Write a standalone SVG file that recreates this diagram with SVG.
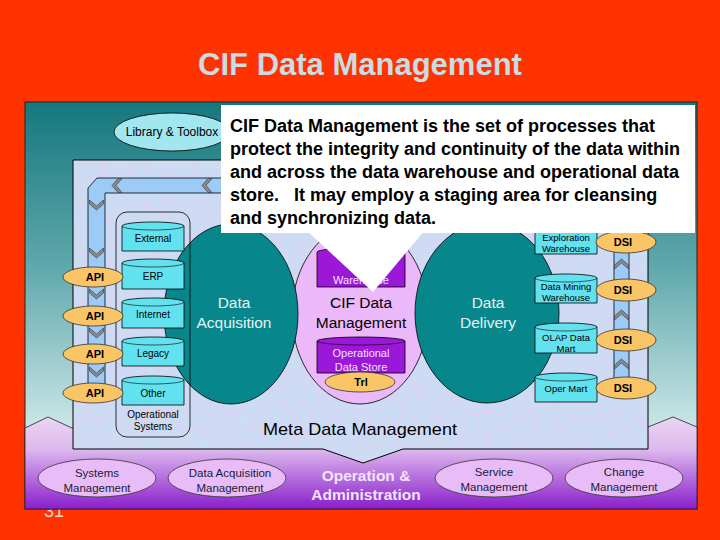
<svg xmlns="http://www.w3.org/2000/svg" width="720" height="540" viewBox="0 0 720 540">
<defs>
<linearGradient id="gTeal" x1="0" y1="102" x2="0" y2="430" gradientUnits="userSpaceOnUse">
<stop offset="0" stop-color="#15777D"/>
<stop offset="0.5" stop-color="#5FA8AC"/>
<stop offset="1" stop-color="#CDE7E7"/>
</linearGradient>
<linearGradient id="gPurple" x1="0" y1="417" x2="0" y2="509" gradientUnits="userSpaceOnUse">
<stop offset="0" stop-color="#EAD6F2"/>
<stop offset="0.35" stop-color="#DDB8EE"/>
<stop offset="1" stop-color="#8A1ECC"/>
</linearGradient>
<filter id="tex" x="0" y="0" width="1" height="1" color-interpolation-filters="sRGB">
<feTurbulence type="fractalNoise" baseFrequency="0.12" numOctaves="3" seed="7" result="n"/>
<feColorMatrix in="n" type="matrix" values="0 0 0 0 0.88  0 0 0 0 0.80  0 0 0 0 0.96  1.4 0 0 0 -0.55" result="spk"/>
<feComposite in="spk" in2="SourceGraphic" operator="atop"/>
</filter>
<path id="chev" d="M-7,-5 L0,1 L7,-5 L7,-1 L0,5 L-7,-1 Z"/>
<style>
text{font-family:"Liberation Sans",Arial,sans-serif;}
.cyl{fill:#62E2EE;stroke:#000;stroke-width:0.8;}
.rim{fill:none;stroke:#000;stroke-width:0.6;}
.pcyl{fill:#9C18D8;stroke:#000;stroke-width:0.8;}
.org{fill:#F9C566;stroke:#333;stroke-width:0.8;}
.lav{fill:#E8BDF7;stroke:#333;stroke-width:0.8;}
.teal{fill:#07878C;stroke:#000;stroke-width:0.8;}
.s10{font-size:10px;fill:#000;text-anchor:middle;}
.s9{font-size:9.5px;fill:#000;text-anchor:middle;}
.pw{font-size:11px;fill:#F4E2FF;text-anchor:middle;}
.b11{font-size:11px;font-weight:bold;fill:#000;text-anchor:middle;}
.big{font-size:15.5px;text-anchor:middle;}
.bot{font-size:11.5px;fill:#1A1A3A;text-anchor:middle;}
.ch{fill:#8A8A8A;stroke:#333;stroke-width:0.6;}
.cal{font-size:18px;font-weight:bold;fill:#000;white-space:pre;}
</style>
</defs>

<rect x="0" y="0" width="720" height="540" fill="#FF3300"/>
<text x="44" y="517" font-size="18" fill="#F4D8CC">31</text>
<text id="title" x="360" y="75" font-size="31" font-weight="bold" fill="#CBDCE3" text-anchor="middle">CIF Data Management</text>

<g id="panel">
<rect x="25" y="102" width="672" height="407" fill="url(#gTeal)" stroke="#222" stroke-width="1"/>
<path d="M25,428 L48,417 L72,428 L648,427 L673,417 L697,427 V509 H25 Z" fill="url(#gPurple)" stroke="#222" stroke-width="0.8"/>
<path d="M73,160 H648 V449 H403 L363,463 L323,449 H73 Z" fill="#CBDDF3" filter="url(#tex)"/>
<path d="M73,160 H648 V449 H403 L363,463 L323,449 H73 Z" fill="none" stroke="#000" stroke-width="1"/>
</g>

<g id="library-toolbox">
<ellipse cx="172" cy="132" rx="58" ry="19" fill="#A2E6EF" stroke="#000" stroke-width="0.8"/>
<text x="172" y="136" font-size="12" fill="#000" text-anchor="middle">Library &amp; Toolbox</text>
</g>

<g id="connectors">
<path d="M88,392 V188 L97,178 H620 L629,187 V388 H614 V193 H105 V392 Z" fill="#9CCBF8" stroke="#000" stroke-width="0.8"/>
<use href="#chev" class="ch" transform="translate(117,185.5) rotate(90)"/>
<use href="#chev" class="ch" transform="translate(207,185.5) rotate(90)"/>
<use href="#chev" class="ch" transform="translate(96.5,205)"/>
<use href="#chev" class="ch" transform="translate(96.5,253)"/>
<use href="#chev" class="ch" transform="translate(96.5,294)"/>
<use href="#chev" class="ch" transform="translate(96.5,333)"/>
<use href="#chev" class="ch" transform="translate(96.5,372)"/>
<use href="#chev" class="ch" transform="translate(621.5,264) rotate(180)"/>
<use href="#chev" class="ch" transform="translate(621.5,315) rotate(180)"/>
<use href="#chev" class="ch" transform="translate(621.5,364) rotate(180)"/>
</g>

<g id="cif-data-management">
<ellipse cx="360" cy="314" rx="68" ry="90" fill="#EBB8FA" stroke="#000" stroke-width="0.8"/>
<text class="big" x="361" y="308" fill="#000">CIF Data</text>
<text class="big" x="361" y="328" fill="#000">Management</text>
</g>

<g id="data-acquisition">
<ellipse cx="231" cy="314" rx="67" ry="90" class="teal"/>
<text class="big" x="234" y="308" fill="#E4F2F2">Data</text>
<text class="big" x="234" y="328" fill="#E4F2F2">Acquisition</text>
</g>

<g id="data-delivery">
<ellipse cx="487" cy="313" rx="72" ry="90" class="teal"/>
<text class="big" x="488" y="308" fill="#E4F2F2">Data</text>
<text class="big" x="488" y="328" fill="#E4F2F2">Delivery</text>
</g>

<g id="operational-systems">
<rect x="116" y="212" width="74" height="225" rx="11" fill="none" stroke="#000" stroke-width="0.8"/>
<text class="s10" x="153" y="418">Operational</text>
<text class="s10" x="153" y="430">Systems</text>
</g>

<g id="cyl-external">
<path class="cyl" d="M122,226 A31,4 0 0 1 184,226 V251 H122 Z"/><path class="rim" d="M122,226 A31,4 0 0 0 184,226"/>
<text class="s10" x="153" y="242">External</text>
</g>
<g id="cyl-erp">
<path class="cyl" d="M122,263 A31,4 0 0 1 184,263 V289 H122 Z"/><path class="rim" d="M122,263 A31,4 0 0 0 184,263"/>
<text class="s10" x="153" y="280">ERP</text>
</g>
<g id="cyl-internet">
<path class="cyl" d="M122,302 A31,4 0 0 1 184,302 V328 H122 Z"/><path class="rim" d="M122,302 A31,4 0 0 0 184,302"/>
<text class="s10" x="153" y="318">Internet</text>
</g>
<g id="cyl-legacy">
<path class="cyl" d="M122,341 A31,4 0 0 1 184,341 V366 H122 Z"/><path class="rim" d="M122,341 A31,4 0 0 0 184,341"/>
<text class="s10" x="153" y="357">Legacy</text>
</g>
<g id="cyl-other">
<path class="cyl" d="M122,380 A31,4 0 0 1 184,380 V405 H122 Z"/><path class="rim" d="M122,380 A31,4 0 0 0 184,380"/>
<text class="s10" x="153" y="397">Other</text>
</g>

<g id="api-1"><ellipse class="org" cx="93" cy="277" rx="30" ry="10"/><text class="b11" x="95" y="281">API</text></g>
<g id="api-2"><ellipse class="org" cx="93" cy="316" rx="30" ry="10"/><text class="b11" x="95" y="320">API</text></g>
<g id="api-3"><ellipse class="org" cx="93" cy="354" rx="30" ry="10"/><text class="b11" x="95" y="358">API</text></g>
<g id="api-4"><ellipse class="org" cx="93" cy="393" rx="30" ry="10"/><text class="b11" x="95" y="397">API</text></g>

<g id="data-warehouse">
<path class="pcyl" d="M317,252 A44,4 0 0 1 405,252 V287 H317 Z"/>
<text class="pw" x="361" y="284">Warehouse</text>
</g>
<g id="operational-data-store">
<path class="pcyl" d="M317,341 A44,4 0 0 1 405,341 V373 H317 Z"/><path class="rim" d="M317,341 A44,4 0 0 0 405,341"/>
<text class="pw" x="361" y="357">Operational</text>
<text class="pw" x="361" y="371">Data Store</text>
</g>
<g id="trl"><ellipse class="org" cx="360" cy="382" rx="35" ry="10"/><text class="b11" x="361" y="386">Trl</text></g>

<g id="cyl-exploration">
<path class="cyl" d="M535,228 A31,4 0 0 1 597,228 V254 H535 Z"/>
<text class="s9" x="566" y="241">Exploration</text>
<text class="s9" x="566" y="252">Warehouse</text>
</g>
<g id="cyl-data-mining">
<path class="cyl" d="M535,278 A31,4 0 0 1 597,278 V303 H535 Z"/><path class="rim" d="M535,278 A31,4 0 0 0 597,278"/>
<text class="s9" x="566" y="290">Data Mining</text>
<text class="s9" x="566" y="301">Warehouse</text>
</g>
<g id="cyl-olap">
<path class="cyl" d="M535,327 A31,4 0 0 1 597,327 V353 H535 Z"/><path class="rim" d="M535,327 A31,4 0 0 0 597,327"/>
<text class="s9" x="566" y="341">OLAP Data</text>
<text class="s9" x="566" y="352">Mart</text>
</g>
<g id="cyl-oper-mart">
<path class="cyl" d="M535,377 A31,4 0 0 1 597,377 V402 H535 Z"/><path class="rim" d="M535,377 A31,4 0 0 0 597,377"/>
<text class="s9" x="566" y="392">Oper Mart</text>
</g>

<g id="dsi-1"><ellipse class="org" cx="626" cy="242" rx="30" ry="11"/><text class="b11" x="623" y="246">DSI</text></g>
<g id="dsi-2"><ellipse class="org" cx="626" cy="290" rx="30" ry="11"/><text class="b11" x="623" y="294">DSI</text></g>
<g id="dsi-3"><ellipse class="org" cx="626" cy="340" rx="30" ry="11"/><text class="b11" x="623" y="344">DSI</text></g>
<g id="dsi-4"><ellipse class="org" cx="626" cy="388" rx="30" ry="11"/><text class="b11" x="623" y="392">DSI</text></g>

<g id="meta-data-management">
<text x="360" y="435" font-size="17" fill="#000" text-anchor="middle" textLength="194" lengthAdjust="spacingAndGlyphs">Meta Data Management</text>
</g>

<g id="systems-management"><ellipse class="lav" cx="97" cy="478" rx="59" ry="19"/><text class="bot" x="97" y="477">Systems</text><text class="bot" x="97" y="492">Management</text></g>
<g id="data-acquisition-management"><ellipse class="lav" cx="227" cy="478" rx="59" ry="19"/><text class="bot" x="230" y="477">Data Acquisition</text><text class="bot" x="230" y="492">Management</text></g>
<g id="operation-administration">
<text x="366" y="481" font-size="15.5" font-weight="bold" fill="#F2E4FF" text-anchor="middle">Operation &amp;</text>
<text x="366" y="500" font-size="15.5" font-weight="bold" fill="#F2E4FF" text-anchor="middle">Administration</text>
</g>
<g id="service-management"><ellipse class="lav" cx="494" cy="478" rx="59" ry="19"/><text class="bot" x="494" y="476">Service</text><text class="bot" x="494" y="491">Management</text></g>
<g id="change-management"><ellipse class="lav" cx="624" cy="478" rx="59" ry="19"/><text class="bot" x="624" y="476">Change</text><text class="bot" x="624" y="491">Management</text></g>

<g id="callout">
<rect x="221" y="105" width="474" height="128" fill="#FFFFFF"/>
<polygon points="306,230 425,230 373,292" fill="#FFFFFF"/>
<text class="cal" x="230" y="132">CIF Data Management is the set of processes that</text>
<text class="cal" x="230" y="155">protect the integrity and continuity of the data within</text>
<text class="cal" x="230" y="178">and across the data warehouse and operational data</text>
<text class="cal" x="230" y="201">store.   It may employ a staging area for cleansing</text>
<text class="cal" x="230" y="224">and synchronizing data.</text>
</g>
</svg>
